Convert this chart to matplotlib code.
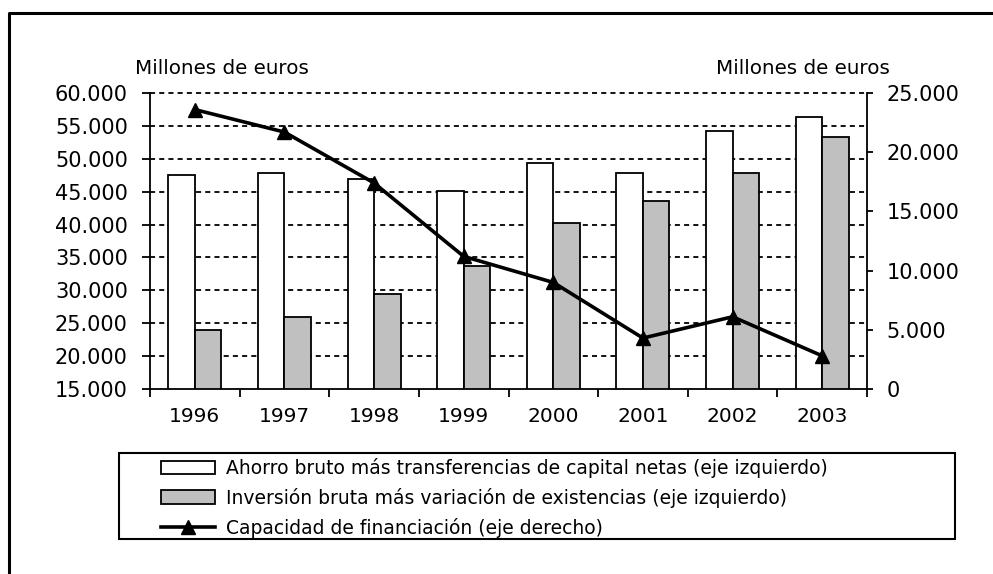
import matplotlib.pyplot as plt
from matplotlib.ticker import FuncFormatter, FixedLocator
from matplotlib.patches import Rectangle
from matplotlib.lines import Line2D
import numpy as np

years = ['1996', '1997', '1998', '1999', '2000', '2001', '2002', '2003']

# ahorro bruto + transferencias de capital netas (eje izquierdo)
ahorro = [47600, 47900, 46900, 45100, 49400, 47800, 54200, 56400]
# inversion bruta + variacion de existencias (eje izquierdo)
inversion = [23900, 25900, 29400, 33700, 40300, 43600, 47900, 53300]
# capacidad de financiacion (eje derecho)
capacidad = [23600, 21700, 17400, 11200, 9000, 4300, 6100, 2800]

labels = ['Ahorro bruto más transferencias de capital netas (eje izquierdo)',
          'Inversión bruta más variación de existencias (eje izquierdo)',
          'Capacidad de financiación (eje derecho)']


def miles(v, pos):
    return '{:,.0f}'.format(v).replace(',', '.')


fig = plt.figure(figsize=(9.93, 5.74), dpi=100)
ax = fig.add_axes([150 / 993, 1 - 389 / 574, 717 / 993, 296 / 574])

x = np.arange(len(years))
w = 0.295
b1 = ax.bar(x - w / 2, np.array(ahorro) - 15000, w, bottom=15000, color='white',
            edgecolor='black', linewidth=1.3, zorder=3)
b2 = ax.bar(x + w / 2, np.array(inversion) - 15000, w, bottom=15000, color='#c0c0c0',
            edgecolor='black', linewidth=1.3, zorder=3)

ax.set_xlim(-0.5, len(years) - 0.5)
ax.set_ylim(15000, 60000)
ax.set_yticks(np.arange(15000, 60001, 5000))
ax.yaxis.set_major_formatter(FuncFormatter(miles))
ax.set_xticks(x)
ax.set_xticklabels(years)
ax.xaxis.set_minor_locator(FixedLocator(np.arange(-0.5, len(years), 1)))
ax.tick_params(axis='x', which='major', length=0, pad=13, labelsize=14.5)
ax.tick_params(axis='x', which='minor', length=6, width=1.3, direction='out')
ax.tick_params(axis='y', length=6, width=1.3, pad=10, labelsize=15)

# dotted grid (behind the bars)
for gy in np.arange(20000, 60001, 5000):
    ax.axhline(gy, color='black', linewidth=1.3, linestyle=(0, (2.8, 2.3)),
               zorder=1, clip_on=False)

ax.spines['top'].set_visible(False)
ax.spines['right'].set_visible(False)
for s in ['left', 'bottom']:
    ax.spines[s].set_linewidth(1.3)

ax2 = ax.twinx()
ln, = ax2.plot(x, capacidad, color='black', linewidth=2.6, marker='^',
               markersize=10, zorder=5)
ax2.set_ylim(0, 25000)
ax2.set_yticks(np.arange(0, 25001, 5000))
ax2.yaxis.set_major_formatter(FuncFormatter(miles))
ax2.tick_params(axis='y', length=4, width=1.3, pad=10, labelsize=15)
ax2.spines['top'].set_visible(False)
ax2.spines['left'].set_visible(False)
ax2.spines['bottom'].set_visible(False)
ax2.spines['right'].set_linewidth(1.3)

fig.text(222 / 993, 1 - 68 / 574, 'Millones de euros', fontsize=14.3,
         ha='center', va='center')
fig.text(803 / 993, 1 - 68 / 574, 'Millones de euros', fontsize=14.3,
         ha='center', va='center')

# legend box
fig.add_artist(Rectangle((119 / 993, 1 - 539 / 574), 836 / 993, 86 / 574,
                         transform=fig.transFigure, facecolor='white',
                         edgecolor='black', linewidth=1.5))
fig.legend([b1, b2, ln], labels, loc='upper left',
           bbox_to_anchor=(161 / 993, 1 - 458 / 574), frameon=False,
           fontsize=13.5, borderpad=0, handlelength=2.9, handleheight=0.75,
           handletextpad=0.55, labelspacing=0.52, numpoints=1, borderaxespad=0)

# outer frame (cropped)
fig.add_artist(Line2D([9 / 993, 9 / 993, 1], [0, 1 - 13 / 574, 1 - 13 / 574],
                      transform=fig.transFigure, color='black', linewidth=2.2))

plt.savefig('out.png', dpi=100)
